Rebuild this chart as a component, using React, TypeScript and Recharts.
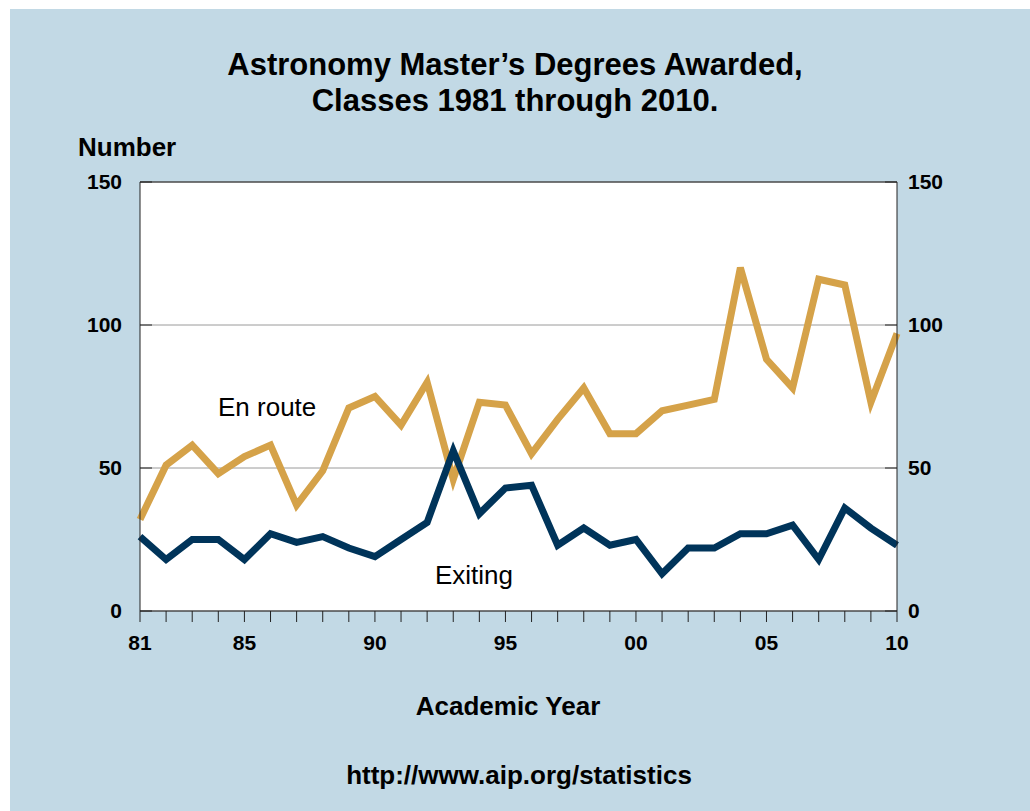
import { CartesianGrid, Line, LineChart, ReferenceLine, XAxis, YAxis } from 'recharts'

const years = [
  1981, 1982, 1983, 1984, 1985, 1986, 1987, 1988, 1989, 1990,
  1991, 1992, 1993, 1994, 1995, 1996, 1997, 1998, 1999, 2000,
  2001, 2002, 2003, 2004, 2005, 2006, 2007, 2008, 2009, 2010,
]
const enRoute = [
  32, 51, 58, 48, 54, 58, 37, 49, 71, 75,
  65, 80, 46, 73, 72, 55, 67, 78, 62, 62,
  70, 72, 74, 120, 88, 78, 116, 114, 73, 97,
]
const exiting = [
  26, 18, 25, 25, 18, 27, 24, 26, 22, 19,
  25, 31, 56, 34, 43, 44, 23, 29, 23, 25,
  13, 22, 22, 27, 27, 30, 18, 36, 29, 23,
]
const yTicks = [0, 50, 100, 150]
const xLabels: Record<number, string> = {
  1981: '81', 1985: '85', 1990: '90', 1995: '95', 2000: '00', 2005: '05', 2010: '10',
}

const data = years.map((year, i) => ({ year, enRoute: enRoute[i], exiting: exiting[i] }))

const FONT = '"Liberation Sans", Arial, sans-serif'
const BG = '#c2d9e5'
const GOLD = '#d5a249'
const NAVY = '#00345a'

function LeftTick(props: any) {
  const { x, y, payload } = props
  return (
    <g>
      <line x1={x + 10} x2={x + 22} y1={y} y2={y} stroke="#222" strokeWidth={1} />
      <text x={x - 8} y={y} dy="0.35em" textAnchor="end" fontFamily={FONT} fontWeight="bold" fontSize={21} fill="#000">
        {payload.value}
      </text>
    </g>
  )
}

function RightTick(props: any) {
  const { x, y, payload } = props
  return (
    <g>
      <line x1={x - 10} x2={x - 22} y1={y} y2={y} stroke="#222" strokeWidth={1} />
      <text x={x + 1} y={y} dy="0.35em" textAnchor="start" fontFamily={FONT} fontWeight="bold" fontSize={21} fill="#000">
        {payload.value}
      </text>
    </g>
  )
}

const textBase = { position: 'absolute' as const, fontFamily: FONT, color: '#000', lineHeight: '30px' }

export default function App() {
  return (
    <div style={{ position: 'absolute', left: 0, top: 0, width: 1030, height: 811, background: '#fff' }}>
      <div style={{ position: 'absolute', left: 10, top: 9, width: 1020, height: 802, background: BG }} />
      <div style={{ position: 'absolute', left: 0, top: 0 }}>
        <LineChart width={1030} height={811} data={data} margin={{ top: 182, right: 73, bottom: 160, left: 80 }}>
          <CartesianGrid vertical={false} stroke="#9a9a9a" fill="#fff" yAxisId="left" />
          <XAxis
            dataKey="year"
            type="number"
            domain={[1981, 2010]}
            ticks={years}
            interval={0}
            tickFormatter={(v: number) => xLabels[v] ?? ''}
            tick={{ fontFamily: FONT, fontWeight: 'bold', fontSize: 21, fill: '#000' }}
            tickSize={11}
            tickMargin={13}
            axisLine={{ stroke: '#222' }}
            tickLine={{ stroke: '#222' }}
            height={40}
          />
          <YAxis
            yAxisId="left"
            domain={[0, 150]}
            ticks={yTicks}
            width={60}
            tickSize={0}
            tickMargin={10}
            tick={<LeftTick />}
            axisLine={{ stroke: '#222' }}
            tickLine={false}
          />
          <YAxis
            yAxisId="right"
            orientation="right"
            domain={[0, 150]}
            ticks={yTicks}
            width={60}
            tickSize={0}
            tickMargin={10}
            tick={<RightTick />}
            axisLine={{ stroke: '#222' }}
            tickLine={false}
          />
          <ReferenceLine yAxisId="left" y={150} stroke="#222" />
          <Line
            yAxisId="left"
            dataKey="enRoute"
            stroke={GOLD}
            strokeWidth={7}
            dot={false}
            activeDot={false}
            strokeLinejoin="miter"
            isAnimationActive={false}
          />
          <Line
            yAxisId="right"
            dataKey="exiting"
            stroke={NAVY}
            strokeWidth={7}
            dot={false}
            activeDot={false}
            strokeLinejoin="miter"
            isAnimationActive={false}
          />
        </LineChart>
      </div>
      <div style={{ ...textBase, left: 0, width: 1030, top: 47, textAlign: 'center', fontWeight: 'bold', fontSize: 31, lineHeight: '36px' }}>
        Astronomy Master’s Degrees Awarded,
        <br />
        Classes 1981 through 2010.
      </div>
      <div style={{ ...textBase, left: 78, top: 132, fontWeight: 'bold', fontSize: 26 }}>Number</div>
      <div style={{ ...textBase, left: 218, top: 392, fontSize: 26 }}>En route</div>
      <div style={{ ...textBase, left: 435, top: 560, fontSize: 26 }}>Exiting</div>
      <div style={{ ...textBase, left: 0, width: 1016, top: 691, textAlign: 'center', fontWeight: 'bold', fontSize: 26 }}>
        Academic Year
      </div>
      <div style={{ ...textBase, left: 0, width: 1038, top: 760, textAlign: 'center', fontWeight: 'bold', fontSize: 26 }}>
        http://www.aip.org/statistics
      </div>
    </div>
  )
}
